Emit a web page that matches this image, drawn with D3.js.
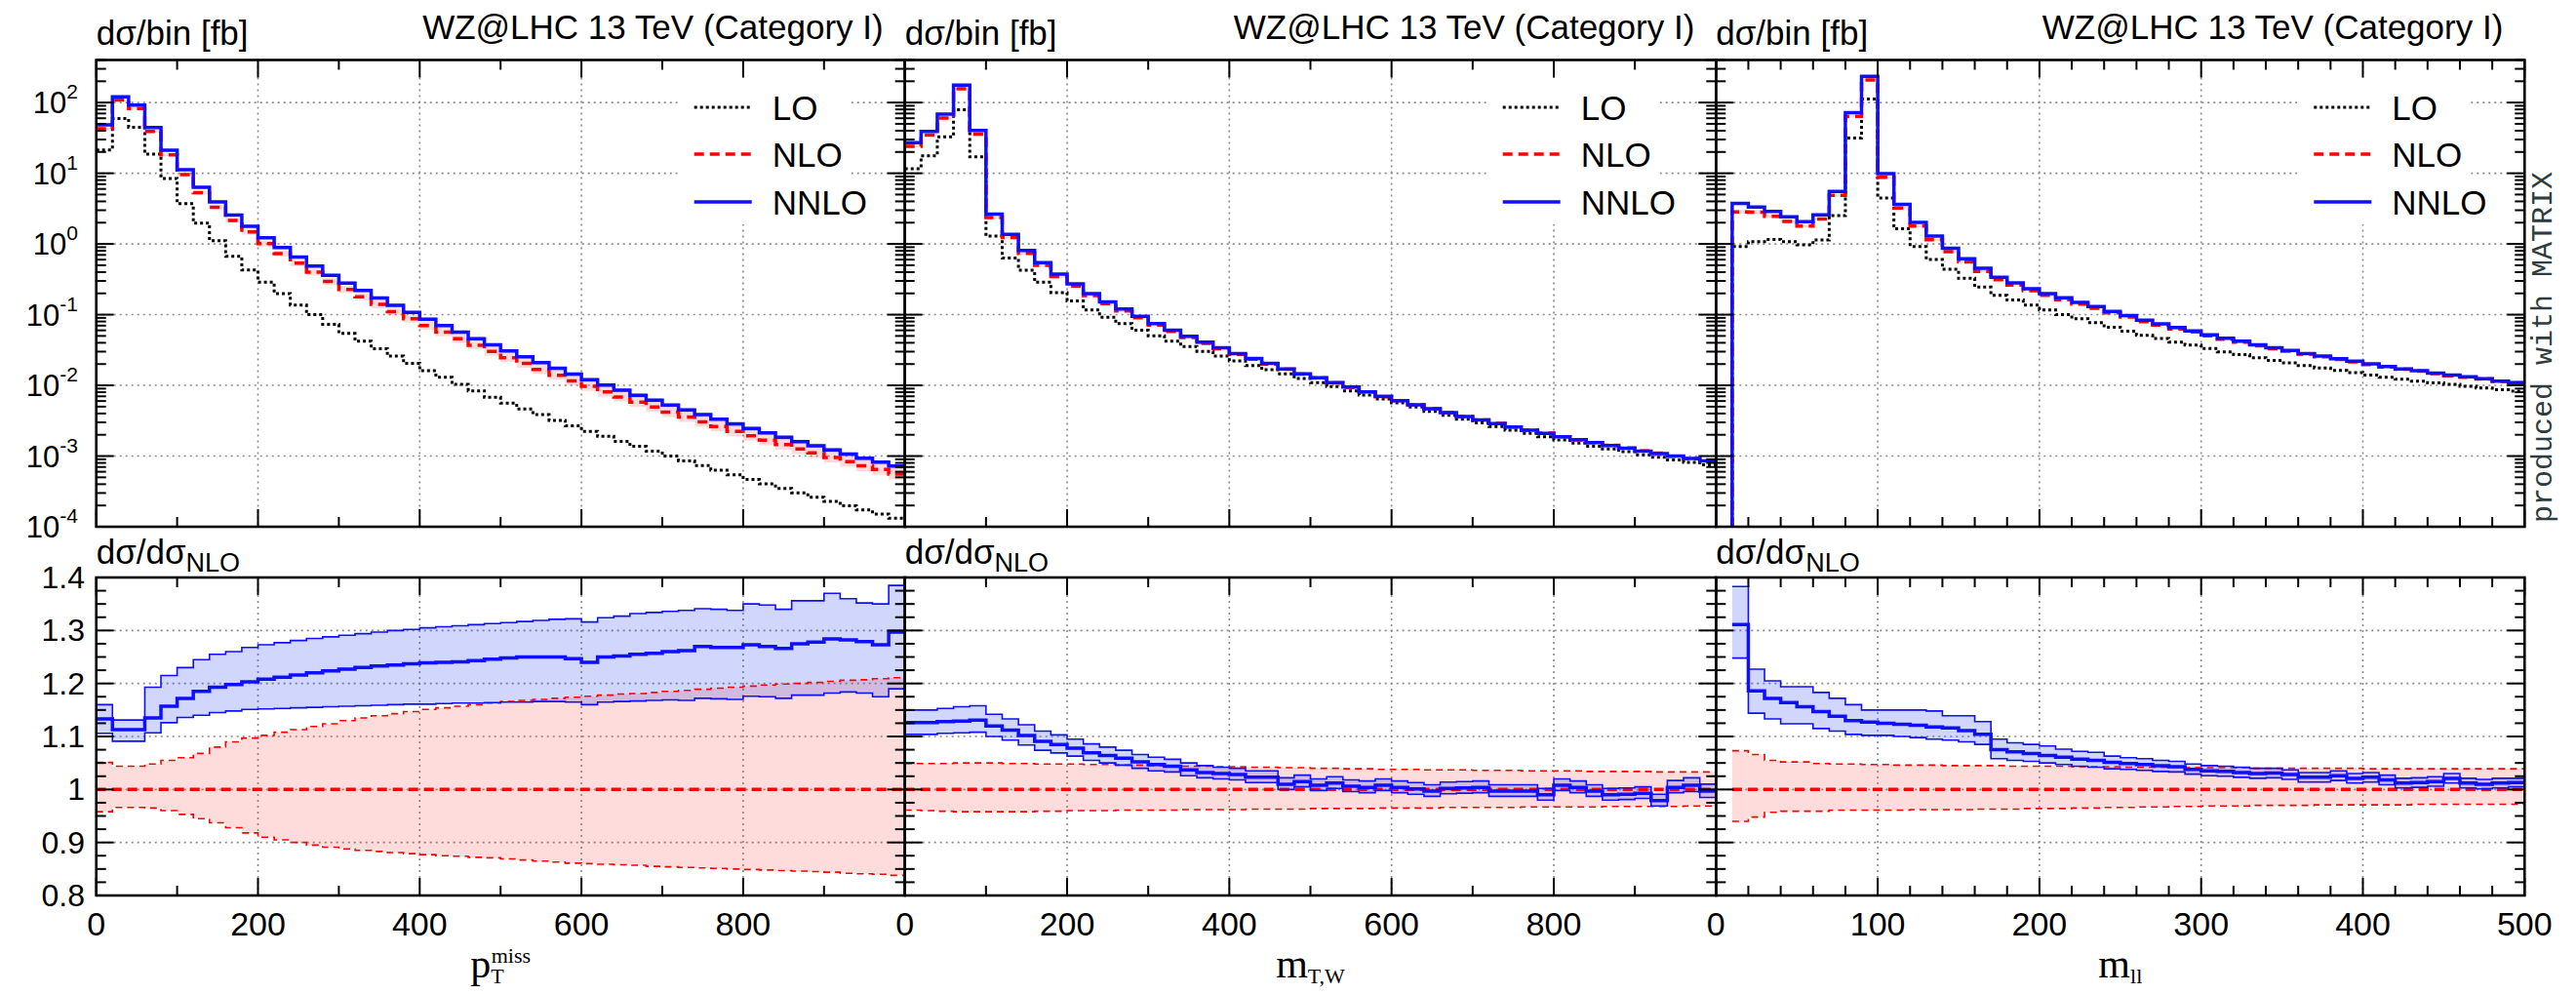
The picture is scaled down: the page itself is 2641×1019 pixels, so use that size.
<!DOCTYPE html>
<html><head><meta charset="utf-8">
<script src="https://cdn.jsdelivr.net/npm/d3@7"></script>
<style>
html,body{margin:0;padding:0;background:#fff;}
svg{display:block;}
text{font-family:"Liberation Sans",Arial,Helvetica,sans-serif;fill:#000;}
</style></head><body>
<svg id="chart" width="2641" height="1019"></svg>
<script>
// ---------------- DATA ----------------
const ptEdges = [0,20,40,60,80,100,120,140,160,180,200,220,240,260,280,300,320,340,360,380,400,420,440,460,480,500,520,540,560,580,600,620,640,660,680,700,720,740,760,780,800,820,840,860,880,900,920,940,960,980,1000];
const mtwEdges = [0,20,40,60,80,100,120,140,160,180,200,220,240,260,280,300,320,340,360,380,400,420,440,460,480,500,520,540,560,580,600,620,640,660,680,700,720,740,760,780,800,820,840,860,880,900,920,940,960,980,1000];
const mllEdges = [10,20,30,40,50,60,70,80,90,100,110,120,130,140,150,160,170,180,190,200,210,220,230,240,250,260,270,280,290,300,310,320,330,340,350,360,370,380,390,400,410,420,430,440,450,460,470,480,490,500];

const ptLO = [21.4,59.6,44.8,18.7,8.45,3.71,1.97,1.11,0.670,0.430,0.288,0.199,0.137,0.100,0.0728,0.0542,0.0421,0.0330,0.0259,0.0205,0.0161,0.0130,0.0103,0.00836,0.00676,0.00560,0.00462,0.00385,0.00320,0.00267,0.00224,0.00190,0.00161,0.00137,0.00117,0.00100,0.000855,0.000733,0.000631,0.000543,0.000468,0.000404,0.000349,0.000302,0.000262,0.000228,0.000198,0.000173,0.000151,0.000132];
const ptNLO = [42.5,108.7,82.5,39.0,18.2,9.56,5.32,3.30,2.15,1.48,1.01,0.732,0.536,0.398,0.295,0.228,0.179,0.140,0.110,0.0874,0.0699,0.0565,0.0456,0.0368,0.0301,0.0246,0.0204,0.0168,0.0139,0.01155,0.00968,0.00809,0.00684,0.00578,0.00492,0.00418,0.00358,0.00305,0.00262,0.00224,0.00194,0.00168,0.00145,0.00126,0.00111,0.000957,0.000836,0.000728,0.000644,0.000558];
const ptNNLO = [48.2,121,91.8,44.3,21.1,11.2,6.31,3.94,2.57,1.78,1.22,0.887,0.652,0.485,0.361,0.280,0.220,0.172,0.136,0.108,0.0865,0.0700,0.0566,0.0457,0.0375,0.0307,0.0254,0.0210,0.0174,0.0144,0.0120,0.0101,0.00855,0.00724,0.00617,0.00526,0.00450,0.00385,0.00331,0.00285,0.00246,0.00213,0.00185,0.00160,0.00140,0.00122,0.00107,0.000935,0.000822,0.000724];
const ptRatio = [1.133,1.113,1.113,1.135,1.157,1.172,1.185,1.193,1.198,1.203,1.208,1.212,1.216,1.220,1.224,1.227,1.230,1.233,1.235,1.237,1.239,1.240,1.241,1.243,1.246,1.248,1.250,1.250,1.250,1.247,1.240,1.250,1.252,1.255,1.257,1.260,1.262,1.270,1.268,1.268,1.273,1.270,1.266,1.275,1.278,1.284,1.282,1.279,1.273,1.297];
const ptRatioUp = [1.160,1.131,1.131,1.193,1.215,1.230,1.245,1.255,1.260,1.268,1.273,1.277,1.281,1.285,1.288,1.291,1.294,1.297,1.300,1.302,1.305,1.307,1.309,1.311,1.313,1.315,1.317,1.319,1.321,1.322,1.316,1.324,1.327,1.332,1.334,1.336,1.338,1.341,1.340,1.338,1.350,1.348,1.340,1.356,1.356,1.370,1.360,1.352,1.350,1.385];
const ptRatioDn = [1.106,1.091,1.091,1.107,1.126,1.136,1.140,1.145,1.148,1.151,1.152,1.153,1.154,1.155,1.156,1.157,1.158,1.159,1.160,1.161,1.161,1.162,1.163,1.163,1.164,1.165,1.165,1.166,1.166,1.165,1.160,1.165,1.166,1.167,1.168,1.169,1.168,1.172,1.171,1.170,1.176,1.175,1.172,1.178,1.178,1.182,1.184,1.182,1.175,1.190];
const ptNloUp = [1.051,1.044,1.044,1.048,1.055,1.060,1.068,1.080,1.090,1.097,1.102,1.108,1.113,1.119,1.124,1.130,1.135,1.139,1.143,1.147,1.151,1.154,1.157,1.160,1.163,1.166,1.168,1.170,1.172,1.174,1.176,1.178,1.180,1.181,1.183,1.185,1.187,1.189,1.191,1.193,1.195,1.197,1.199,1.200,1.202,1.204,1.206,1.207,1.209,1.211];
const ptNloDn = [0.958,0.966,0.966,0.965,0.960,0.953,0.945,0.937,0.928,0.918,0.910,0.905,0.900,0.895,0.891,0.888,0.885,0.883,0.881,0.879,0.877,0.875,0.874,0.872,0.871,0.869,0.867,0.865,0.863,0.861,0.860,0.859,0.858,0.857,0.855,0.854,0.853,0.852,0.851,0.850,0.849,0.848,0.847,0.846,0.845,0.844,0.842,0.841,0.840,0.838];

const mtwLO = [11.6,17.7,32.7,79.3,17.1,1.29,0.635,0.425,0.288,0.205,0.156,0.117,0.0918,0.0745,0.0603,0.0504,0.0421,0.0355,0.0303,0.0259,0.0221,0.0191,0.0166,0.0145,0.0125,0.0109,0.00959,0.00836,0.00728,0.00641,0.00565,0.00493,0.00429,0.00377,0.00331,0.00294,0.00261,0.00232,0.00209,0.00188,0.00169,0.00152,0.00138,0.00126,0.00115,0.00104,0.000959,0.000883,0.000813,0.000750];
const mtwNLO = [24.0,34.7,60.6,157,35.7,2.36,1.23,0.734,0.497,0.345,0.253,0.186,0.143,0.113,0.0901,0.0712,0.0578,0.0475,0.0394,0.0330,0.0274,0.0235,0.0200,0.0169,0.0144,0.0127,0.0108,0.00942,0.00806,0.00692,0.00606,0.00530,0.00469,0.00411,0.00362,0.00323,0.00289,0.00258,0.00233,0.00211,0.00187,0.00169,0.00155,0.00142,0.00130,0.00118,0.00110,0.000996,0.000916,0.000854];
const mtwNNLO = [27.0,39.1,68.4,177,40.4,2.64,1.37,0.809,0.542,0.374,0.273,0.199,0.152,0.120,0.0948,0.0745,0.0603,0.0493,0.0407,0.0340,0.0282,0.0240,0.0205,0.0171,0.0146,0.0128,0.0109,0.00948,0.00809,0.00698,0.00608,0.00531,0.00468,0.00412,0.00363,0.00324,0.00288,0.00257,0.00232,0.00209,0.00188,0.00170,0.00155,0.00141,0.00129,0.00117,0.00108,0.00100,0.000923,0.000851];
const mtwRatio = [1.126,1.126,1.128,1.129,1.131,1.120,1.112,1.102,1.091,1.085,1.078,1.069,1.064,1.059,1.052,1.047,1.044,1.037,1.032,1.030,1.028,1.023,1.023,1.010,1.015,1.008,1.012,1.006,1.004,1.008,1.004,1.001,0.997,1.002,1.003,1.004,0.997,0.997,0.997,0.990,1.008,1.004,0.997,0.990,0.991,0.993,0.979,1.004,1.008,0.997];
const mtwRatioUp = [1.150,1.150,1.153,1.156,1.158,1.142,1.133,1.122,1.110,1.103,1.095,1.086,1.080,1.074,1.066,1.061,1.057,1.050,1.045,1.042,1.040,1.035,1.035,1.022,1.027,1.020,1.024,1.018,1.016,1.020,1.016,1.013,1.009,1.014,1.015,1.016,1.009,1.009,1.009,1.002,1.020,1.016,1.009,1.002,1.003,1.005,0.991,1.017,1.022,1.010];
const mtwRatioDn = [1.104,1.104,1.106,1.107,1.108,1.100,1.093,1.084,1.074,1.069,1.063,1.055,1.050,1.046,1.040,1.035,1.033,1.026,1.022,1.020,1.018,1.013,1.013,1.000,1.005,0.998,1.002,0.996,0.994,0.998,0.994,0.991,0.987,0.992,0.993,0.994,0.987,0.987,0.987,0.980,0.998,0.994,0.987,0.980,0.981,0.983,0.969,0.994,0.996,0.985];
const mtwNloUp = [1.049,1.049,1.049,1.050,1.050,1.050,1.049,1.049,1.048,1.048,1.048,1.047,1.047,1.046,1.046,1.045,1.045,1.044,1.044,1.043,1.043,1.042,1.042,1.041,1.041,1.040,1.040,1.039,1.039,1.038,1.038,1.038,1.037,1.037,1.037,1.036,1.036,1.036,1.035,1.035,1.035,1.035,1.034,1.034,1.034,1.034,1.033,1.033,1.033,1.033];
const mtwNloDn = [0.961,0.960,0.959,0.958,0.958,0.958,0.958,0.958,0.959,0.959,0.960,0.960,0.960,0.961,0.961,0.961,0.961,0.962,0.962,0.962,0.962,0.963,0.963,0.963,0.963,0.964,0.964,0.964,0.964,0.965,0.965,0.965,0.965,0.966,0.966,0.966,0.966,0.966,0.967,0.967,0.967,0.967,0.967,0.968,0.968,0.968,0.968,0.968,0.969,0.969];

const mllLO = [0.918,1.08,1.16,1.08,0.968,1.14,2.51,31.6,112,4.48,1.64,0.918,0.603,0.439,0.327,0.245,0.188,0.161,0.137,0.117,0.100,0.0875,0.0771,0.0664,0.0583,0.0509,0.0459,0.0409,0.0372,0.0331,0.0297,0.0273,0.0245,0.0225,0.0208,0.0190,0.0176,0.0163,0.0151,0.0140,0.0130,0.0122,0.0115,0.0108,0.0103,0.00971,0.00920,0.00865,0.00830];
const mllNLO = [2.85,2.81,2.46,2.09,1.79,2.26,4.86,63.7,209,8.80,3.23,1.79,1.15,0.780,0.558,0.410,0.313,0.263,0.218,0.187,0.163,0.141,0.123,0.106,0.0924,0.0798,0.0712,0.0629,0.0568,0.0502,0.0448,0.0407,0.0363,0.0330,0.0304,0.0276,0.0253,0.0232,0.0214,0.0196,0.0182,0.0169,0.0159,0.0147,0.0137,0.0130,0.0123,0.0114,0.0108];
const mllNNLO = [3.74,3.33,2.88,2.43,2.07,2.59,5.53,72.0,235,9.90,3.63,2.01,1.29,0.870,0.620,0.453,0.337,0.282,0.233,0.199,0.173,0.149,0.130,0.111,0.0969,0.0836,0.0744,0.0656,0.0590,0.0520,0.0463,0.0420,0.0374,0.0340,0.0313,0.0282,0.0259,0.0238,0.0219,0.0201,0.0185,0.0171,0.0161,0.0149,0.0140,0.0132,0.0124,0.0115,0.0109];
const mllRatio = [1.311,1.186,1.172,1.164,1.156,1.147,1.138,1.130,1.127,1.125,1.123,1.121,1.118,1.116,1.111,1.104,1.075,1.071,1.068,1.064,1.061,1.057,1.055,1.051,1.049,1.047,1.045,1.043,1.038,1.035,1.034,1.032,1.030,1.031,1.028,1.023,1.023,1.026,1.021,1.023,1.018,1.012,1.013,1.015,1.021,1.012,1.010,1.012,1.013];
const mllRatioUp = [1.383,1.227,1.205,1.194,1.194,1.183,1.172,1.160,1.150,1.150,1.150,1.150,1.148,1.139,1.139,1.128,1.095,1.088,1.085,1.082,1.076,1.072,1.070,1.063,1.060,1.058,1.055,1.053,1.048,1.045,1.044,1.042,1.040,1.040,1.037,1.032,1.032,1.035,1.030,1.032,1.027,1.021,1.022,1.024,1.030,1.021,1.019,1.021,1.021];
const mllRatioDn = [1.248,1.144,1.133,1.124,1.124,1.115,1.110,1.104,1.102,1.102,1.100,1.098,1.095,1.093,1.090,1.085,1.058,1.055,1.053,1.050,1.047,1.044,1.042,1.039,1.038,1.036,1.034,1.033,1.029,1.026,1.025,1.023,1.021,1.022,1.019,1.014,1.014,1.017,1.012,1.014,1.009,1.003,1.004,1.006,1.012,1.003,1.001,1.003,1.005];
const mllNloUp = [1.073,1.066,1.055,1.052,1.052,1.049,1.048,1.048,1.047,1.047,1.046,1.046,1.046,1.045,1.045,1.045,1.045,1.044,1.044,1.044,1.044,1.043,1.043,1.043,1.042,1.042,1.042,1.042,1.041,1.041,1.041,1.041,1.040,1.040,1.040,1.040,1.040,1.040,1.040,1.039,1.039,1.039,1.039,1.039,1.039,1.039,1.039,1.039,1.039];
const mllNloDn = [0.940,0.948,0.957,0.959,0.959,0.959,0.961,0.961,0.961,0.961,0.961,0.962,0.962,0.962,0.962,0.963,0.963,0.963,0.964,0.964,0.964,0.965,0.965,0.966,0.966,0.967,0.967,0.968,0.968,0.969,0.969,0.969,0.970,0.970,0.970,0.970,0.971,0.971,0.971,0.971,0.971,0.971,0.972,0.972,0.972,0.972,0.972,0.972,0.972];

const ptTickLabels = [0,200,400,600,800];
const mtwTickLabels = [0,200,400,600,800];
const mllTickLabels = [0,100,200,300,400,500];
const topExponents = [-4,-3,-2,-1,0,1,2];
const ratioTickLabels = [0.8,0.9,1,1.1,1.2,1.3,1.4];
const seriesNames = ['LO','NLO','NNLO'];
const titleText = 'WZ@LHC 13 TeV (Category I)';
const topYLabel = 'dσ/bin [fb]';

// ---------------- LAYOUT ----------------
const TOP = {y0: 61.5, y1: 540};
const BOT = {y0: 592, y1: 918};
const BLUE = '#0f0fff', RED = '#ff0000';
const PINK_FILL = 'rgba(255,50,50,0.17)', BLUE_FILL = 'rgba(40,70,240,0.22)';
const svg = d3.select('#chart');
const defs = svg.append('defs');

const yT = d3.scaleLog().domain([1e-4, 400]).range([TOP.y1, TOP.y0]);
const yB = d3.scaleLinear().domain([0.8, 1.4]).range([BOT.y1, BOT.y0]);

const panels = [
  {edges: ptEdges, lo: ptLO, nlo: ptNLO, nnlo: ptNNLO, r: ptRatio, rUp: ptRatioUp, rDn: ptRatioDn, nUp: ptNloUp, nDn: ptNloDn,
   xmax: 1000, major: 200, minor: 100, labels: ptTickLabels, x0: 98.7, x1: 927.7, axis: 'pt', drop: false},
  {edges: mtwEdges, lo: mtwLO, nlo: mtwNLO, nnlo: mtwNNLO, r: mtwRatio, rUp: mtwRatioUp, rDn: mtwRatioDn, nUp: mtwNloUp, nDn: mtwNloDn,
   xmax: 1000, major: 200, minor: 100, labels: mtwTickLabels, x0: 927.7, x1: 1759.3, axis: 'mtw', drop: false},
  {edges: mllEdges, lo: mllLO, nlo: mllNLO, nnlo: mllNNLO, r: mllRatio, rUp: mllRatioUp, rDn: mllRatioDn, nUp: mllNloUp, nDn: mllNloDn,
   xmax: 500, major: 100, minor: 20, labels: mllTickLabels, x0: 1759.3, x1: 2588.3, axis: 'mll', drop: true}
];

function stepPts(edges, vals, drop) {
  const pts = vals.map((v, i) => [edges[i], v]);
  pts.push([edges[vals.length], vals[vals.length - 1]]);
  if (drop) pts.unshift([edges[0], yT.domain()[0]]);
  return pts;
}
function bandPts(edges, lo, hi) {
  const pts = lo.map((v, i) => [edges[i], v, hi[i]]);
  pts.push([edges[lo.length], lo[lo.length - 1], hi[hi.length - 1]]);
  return pts;
}
function ln(g, x1, y1, x2, y2, w, c) {
  g.append('line').attr('x1', x1).attr('y1', y1).attr('x2', x2).attr('y2', y2)
    .attr('stroke', c || '#000').attr('stroke-width', w);
}

panels.forEach((p, k) => {
  const x = d3.scaleLinear().domain([0, p.xmax]).range([p.x0, p.x1]);
  const g = svg.append('g');
  defs.append('clipPath').attr('id', 'ct' + k).append('rect')
    .attr('x', p.x0).attr('y', TOP.y0).attr('width', p.x1 - p.x0).attr('height', TOP.y1 - TOP.y0);
  defs.append('clipPath').attr('id', 'cb' + k).append('rect')
    .attr('x', p.x0).attr('y', BOT.y0).attr('width', p.x1 - p.x0).attr('height', BOT.y1 - BOT.y0);

  // gridlines
  const grid = g.append('g').attr('stroke', '#8a8a8a').attr('stroke-width', 1.6).attr('stroke-dasharray', '2,4');
  p.labels.filter(v => v > 0 && v < p.xmax).forEach(v => {
    grid.append('line').attr('x1', x(v)).attr('x2', x(v)).attr('y1', TOP.y0).attr('y2', TOP.y1);
    grid.append('line').attr('x1', x(v)).attr('x2', x(v)).attr('y1', BOT.y0).attr('y2', BOT.y1);
  });
  topExponents.filter(e => e > -4).forEach(e => {
    grid.append('line').attr('x1', p.x0).attr('x2', p.x1).attr('y1', yT(Math.pow(10, e))).attr('y2', yT(Math.pow(10, e)));
  });
  ratioTickLabels.filter(v => v > 0.8 && v < 1.4).forEach(v => {
    grid.append('line').attr('x1', p.x0).attr('x2', p.x1).attr('y1', yB(v)).attr('y2', yB(v));
  });

  // legend box (white, hides grid)
  const lx = p.x0;
  g.append('rect').attr('x', lx + 596).attr('y', 80).attr('width', 178).attr('height', 150).attr('fill', '#fff');

  // ---- top panel ----
  const gt = g.append('g').attr('clip-path', `url(#ct${k})`);
  const areaT = d3.area().x(d => x(d[0])).y0(d => yT(d[1])).y1(d => yT(d[2])).curve(d3.curveStepAfter);
  const lineT = d3.line().x(d => x(d[0])).y(d => yT(d[1])).curve(d3.curveStepAfter);
  gt.append('path').attr('d', areaT(bandPts(p.edges, p.nlo.map((v, i) => v * p.nDn[i]), p.nlo.map((v, i) => v * p.nUp[i]))))
    .attr('fill', PINK_FILL);
  gt.append('path').attr('d', areaT(bandPts(p.edges, p.nlo.map((v, i) => v * p.rDn[i]), p.nlo.map((v, i) => v * p.rUp[i]))))
    .attr('fill', BLUE_FILL);
  gt.append('path').attr('d', lineT(stepPts(p.edges, p.lo, p.drop))).attr('fill', 'none')
    .attr('stroke', '#000').attr('stroke-width', 3).attr('stroke-dasharray', '3,3');
  gt.append('path').attr('d', lineT(stepPts(p.edges, p.nlo, p.drop))).attr('fill', 'none')
    .attr('stroke', RED).attr('stroke-width', 3.5).attr('stroke-dasharray', '10,6');
  gt.append('path').attr('d', lineT(stepPts(p.edges, p.nnlo, p.drop))).attr('fill', 'none')
    .attr('stroke', BLUE).attr('stroke-width', 3.5);

  // ---- ratio panel ----
  const gb = g.append('g').attr('clip-path', `url(#cb${k})`);
  const areaB = d3.area().x(d => x(d[0])).y0(d => yB(d[1])).y1(d => yB(d[2])).curve(d3.curveStepAfter);
  const lineB = d3.line().x(d => x(d[0])).y(d => yB(d[1])).curve(d3.curveStepAfter);
  gb.append('path').attr('d', areaB(bandPts(p.edges, p.nDn, p.nUp))).attr('fill', PINK_FILL);
  gb.append('path').attr('d', areaB(bandPts(p.edges, p.rDn, p.rUp))).attr('fill', BLUE_FILL);
  [p.nUp, p.nDn].forEach(arr => gb.append('path').attr('d', lineB(stepPts(p.edges, arr))).attr('fill', 'none')
    .attr('stroke', RED).attr('stroke-width', 1.6).attr('stroke-dasharray', '7,5'));
  gb.append('path').attr('d', lineB([[p.edges[0], 1], [p.edges[p.edges.length - 1], 1]])).attr('fill', 'none')
    .attr('stroke', RED).attr('stroke-width', 3.5).attr('stroke-dasharray', '10,6');
  [p.rUp, p.rDn].forEach(arr => gb.append('path').attr('d', lineB(stepPts(p.edges, arr))).attr('fill', 'none')
    .attr('stroke', BLUE).attr('stroke-width', 1.6));
  gb.append('path').attr('d', lineB(stepPts(p.edges, p.r))).attr('fill', 'none')
    .attr('stroke', BLUE).attr('stroke-width', 3.5);

  // ---- ticks ----
  const tk = g.append('g');
  d3.range(0, p.xmax + 0.001, p.minor).forEach(v => {
    const len = (v % p.major === 0) ? 18 : 10;
    const xx = x(v);
    [TOP, BOT].forEach(P => {
      ln(tk, xx, P.y0, xx, P.y0 + len, 2);
      ln(tk, xx, P.y1, xx, P.y1 - len, 2);
    });
  });
  topExponents.forEach(e => {
    for (let m = 1; m <= 9; m++) {
      const v = m * Math.pow(10, e);
      if (v < 1e-4 || v > 400) continue;
      const len = m === 1 ? 18 : 10;
      const yy = yT(v);
      ln(tk, p.x0, yy, p.x0 + len, yy, 2);
      ln(tk, p.x1, yy, p.x1 - len, yy, 2);
    }
  });
  d3.range(0, 25).forEach(i => {
    const v = 0.8 + i * 0.025;
    const len = (i % 4 === 0) ? 18 : 10;
    const yy = yB(v);
    ln(tk, p.x0, yy, p.x0 + len, yy, 2);
    ln(tk, p.x1, yy, p.x1 - len, yy, 2);
  });

  // frames
  [TOP, BOT].forEach(P => g.append('rect').attr('x', p.x0).attr('y', P.y0).attr('width', p.x1 - p.x0)
    .attr('height', P.y1 - P.y0).attr('fill', 'none').attr('stroke', '#000').attr('stroke-width', 2.6));

  // x tick labels
  p.labels.forEach(v => {
    g.append('text').attr('x', x(v)).attr('y', 959).attr('text-anchor', 'middle')
      .attr('font-size', 34).text(v);
  });

  // panel texts
  g.append('text').attr('x', p.x0).attr('y', 46).attr('font-size', 35).text(topYLabel);
  g.append('text').attr('x', p.x1 - 22).attr('y', 40).attr('text-anchor', 'end').attr('font-size', 35).text(titleText);
  const rl = g.append('text').attr('x', p.x0).attr('y', 578).attr('font-size', 35);
  rl.append('tspan').text('dσ/dσ');
  rl.append('tspan').attr('font-size', 27).attr('dy', 8).text('NLO');

  // legend
  const rows = [110, 158, 207];
  const styles = [
    {c: '#000', w: 3, d: '3,3'},
    {c: RED, w: 3.5, d: '10,6'},
    {c: BLUE, w: 3.5, d: null}
  ];
  seriesNames.forEach((name, i) => {
    const l = g.append('line').attr('x1', lx + 613).attr('x2', lx + 672).attr('y1', rows[i]).attr('y2', rows[i])
      .attr('stroke', styles[i].c).attr('stroke-width', styles[i].w);
    if (styles[i].d) l.attr('stroke-dasharray', styles[i].d);
    g.append('text').attr('x', lx + 693).attr('y', rows[i] + 12.5).attr('font-size', 35).text(name);
  });

  // axis title
  const cx = (p.x0 + p.x1) / 2;
  const at = g.append('text').attr('x', cx).attr('y', 1002).attr('text-anchor', 'middle')
    .style('font-family', '"Liberation Serif","Times New Roman",serif').attr('font-size', 42);
  if (p.axis === 'pt') {
    at.append('tspan').text('p');
    at.append('tspan').attr('font-size', 22).attr('dy', 6).text('T');
    at.append('tspan').attr('font-size', 22).attr('dx', -13).attr('dy', -21).text('miss');
  } else if (p.axis === 'mtw') {
    at.append('tspan').text('m');
    at.append('tspan').attr('font-size', 22).attr('dy', 6).text('T,W');
  } else {
    at.append('tspan').text('m');
    at.append('tspan').attr('font-size', 22).attr('dy', 6).text('ll');
  }
});

// y tick labels (left panel only)
const yl = svg.append('g');
topExponents.forEach(e => {
  const t = yl.append('text').attr('x', 80).attr('y', yT(Math.pow(10, e)) + 11).attr('text-anchor', 'end').attr('font-size', 31);
  t.append('tspan').text('10');
  t.append('tspan').attr('font-size', 21).attr('dy', -15).text(String(e));
});
ratioTickLabels.forEach(v => {
  yl.append('text').attr('x', 87).attr('y', yB(v) + 11).attr('text-anchor', 'end').attr('font-size', 32).text(String(v));
});

// watermark
svg.append('text').attr('transform', 'translate(2616,536) rotate(-90)')
  .style('font-family', '"Liberation Mono","DejaVu Sans Mono",monospace').attr('font-size', 30)
  .attr('fill', '#2e3d3d').style('fill', '#2e3d3d').text('produced with MATRIX');
</script></body></html>
